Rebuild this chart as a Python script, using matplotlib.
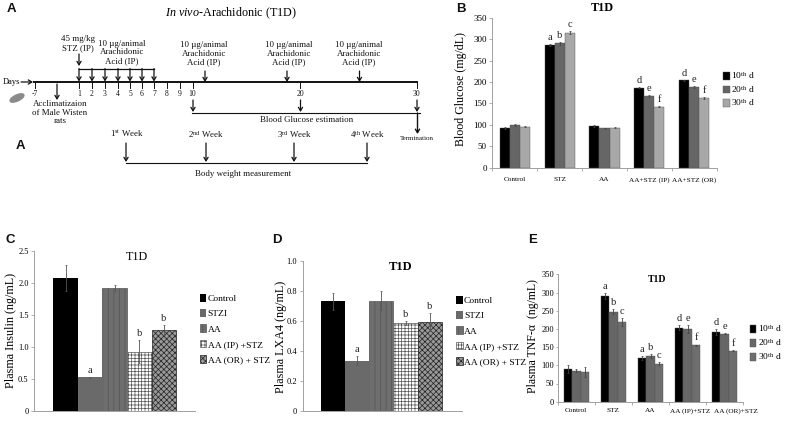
import matplotlib
matplotlib.use("Agg")
import numpy as np
import matplotlib.pyplot as plt
from matplotlib.patches import Ellipse
from matplotlib.transforms import ScaledTranslation

plt.rcParams['font.family'] = ['Liberation Serif', 'DejaVu Serif']
plt.rcParams['mathtext.fontset'] = 'custom'
plt.rcParams['mathtext.rm'] = 'Liberation Serif'
plt.rcParams['mathtext.it'] = 'Liberation Serif:italic'
plt.rcParams['hatch.linewidth'] = 0.5

W, H = 790, 422
DAY_LEGEND = [r"10$^{\mathrm{th}}$ d", r"20$^{\mathrm{th}}$ d", r"30$^{\mathrm{th}}$ d"]
TREAT_LEGEND = ["Control", "STZI", "AA", "AA (IP) +STZ", "AA (OR) + STZ"]

# panel B
b_groups = ["Control", "STZ", "AA", "AA+STZ (IP)", "AA+STZ (OR)"]
b_10 = [92, 287, 97, 187, 204]
b_20 = [100, 290, 92, 167, 188]
b_30 = [96, 315, 93, 142, 163]
b_err_10 = [2, 2, 2, 1.5, 1.5]
b_err_20 = [2, 4, 1.5, 3, 2]
b_err_30 = [1.5, 3, 1.5, 1, 2]
b_let_10 = ["", "a", "", "d", "d"]
b_let_20 = ["", "b", "", "e", "e"]
b_let_30 = ["", "c", "", "f", "f"]

# panel C
c_vals = [2.08, 0.53, 1.92, 0.93, 1.27]
c_err = [0.2, 0.01, 0.05, 0.18, 0.08]
c_let = ["", "a", "", "b", "b"]

# panel D
d_vals = [0.73, 0.335, 0.735, 0.585, 0.59]
d_err = [0.055, 0.03, 0.065, 0.015, 0.06]
d_let = ["", "a", "", "b", "b"]

# panel E
e_groups = ["Control", "STZ", "AA", "AA (IP)+STZ", "AA (OR)+STZ"]
e_10 = [90, 290, 120, 203, 192]
e_20 = [85, 247, 126, 200, 187]
e_30 = [82, 219, 104, 155, 140]
e_err_10 = [10, 9, 6, 7, 8]
e_err_20 = [4, 7, 5, 10, 2]
e_err_30 = [13, 10, 4, 2, 2]
e_let_10 = ["", "a", "a", "d", "d"]
e_let_20 = ["", "b", "b", "e", "e"]
e_let_30 = ["", "c", "c", "f", "f"]

# panel A timeline
day_labels = ["-7", "1", "2", "3", "4", "5", "6", "7", "8", "9", "10", "20", "30"]
day_x = [34.5, 79, 92, 105, 118, 130, 142, 154, 167, 180, 192.5, 300, 416.7]
dose_x = [79, 92, 105, 118, 130, 142, 154]
later_dose_x = [205, 287, 359.5]
later_text_x = [204, 289, 359]
glucose_x = [193, 300.5, 417]
week_labels = [r"1$^{\mathrm{st}}$ Week", r"2$^{\mathrm{nd}}$ Week",
               r"3$^{\mathrm{rd}}$ Week", r"4$^{\mathrm{th}}$ Week"]
week_x = [126, 206, 294, 367]
week_text_x = [127, 206, 294, 367]


def px_axes(left, right, top, bottom):
    ax = fig.add_axes([left / W, 1 - bottom / H, (right - left) / W, (bottom - top) / H])
    for s in ['top', 'right']:
        ax.spines[s].set_visible(False)
    for s in ['left', 'bottom']:
        ax.spines[s].set_color('#a0a0a0')
        ax.spines[s].set_linewidth(0.7)
    ax.tick_params(color='#a0a0a0', width=0.6, length=2.5, pad=1.5)
    return ax


def letters(ax, xs, vals, errs, labs, size=7.5):
    for x, v, e, l in zip(xs, vals, errs, labs):
        if l:
            ax.annotate(l, (x, v + e), xytext=(0, 1.5), textcoords='offset points',
                        ha='center', va='bottom', fontsize=size, color='#222222')


def grouped(ax, names, series, errs, labs, width, ymax, step, size, pad):
    x = np.arange(len(names))
    cols = ['black', '#666666', '#a8a8a8'] if ax is axB else ['black', '#666666', '#6e6e6e']
    for i in range(3):
        xs = x + (i - 1) * width
        ax.bar(xs, series[i], width, color=cols[i], edgecolor='#555555', linewidth=0.3,
               label=DAY_LEGEND[i], yerr=errs[i],
               error_kw=dict(ecolor='#444444', elinewidth=0.6, capsize=1, capthick=0.5))
        letters(ax, xs, series[i], errs[i], labs[i], 7.5)
    ax.set_xlim(-0.5, len(names) - 0.5)
    ax.set_ylim(0, ymax)
    ax.set_yticks(np.arange(0, ymax + 1, step))
    ax.set_xticks(x)
    ax.set_xticklabels(names, fontsize=size)
    ax.set_xticks(np.arange(-0.5, len(names)), minor=True)
    ax.tick_params(axis='x', which='major', length=0, pad=pad)
    ax.tick_params(axis='x', which='minor', color='#a0a0a0', width=0.6, length=2.5)


def single(ax, vals, errs, labs, ymax, ticks, ticklabs):
    xs = np.arange(len(vals))
    styles = [dict(color='black'),
              dict(color='#6a6a6a'),
              dict(facecolor='#6e6e6e', edgecolor='#555555', hatch='|||'),
              dict(facecolor='white', edgecolor='#555555', hatch='+++++'),
              dict(facecolor='#999999', edgecolor='#222222', hatch='xxxxxx')]
    for i in xs:
        ax.bar(xs[i], vals[i], 1.0, label=TREAT_LEGEND[i], linewidth=0.5, yerr=errs[i],
               error_kw=dict(ecolor='#555555', elinewidth=0.6, capsize=1, capthick=0.5),
               **styles[i])
    letters(ax, xs, vals, errs, labs, 7.5)
    ax.set_ylim(0, ymax)
    ax.set_yticks(ticks)
    ax.set_yticklabels(ticklabs, fontsize=6)
    ax.set_xticks([])


def add_legend(ax, xfrac, yfrac, gap):
    ax.legend(loc='upper left', bbox_to_anchor=(xfrac, yfrac), frameon=False, fontsize=6.8,
              handlelength=0.7, handleheight=0.9, handletextpad=0.15, labelspacing=gap,
              borderaxespad=0, borderpad=0)


def tree_arrow(x, y0, y1, lw=0.9, x0=None):
    ov.annotate("", xy=(x, y1), xytext=(x if x0 is None else x0, y0),
                arrowprops=dict(arrowstyle='->,head_length=0.25,head_width=0.15', lw=lw,
                                color='#111111', shrinkA=0, shrinkB=0))


def stack(x, ys, lines, size=6.4):
    for y, s in zip(ys, lines):
        ov.text(x, y, s, ha='center', va='center', fontsize=size, color='#111111')


fig = plt.figure(figsize=(W / 100, H / 100), dpi=100)

# panel B
axB = px_axes(492.3, 716.7, 17.7, 167.7)
grouped(axB, b_groups, [b_10, b_20, b_30], [b_err_10, b_err_20, b_err_30],
        [b_let_10, b_let_20, b_let_30], 0.223, 350, 50, 5.2, 7)
axB.tick_params(axis='y', labelsize=6.5)
axB.set_ylabel("Blood Glucose (mg/dL)", fontsize=8.6)
axB.yaxis.set_label_coords(-0.113, 0.525)
add_legend(axB, 1.03, 0.651, 0.28)

# panel C
axC = px_axes(34.3, 195, 251, 411.3)
single(axC, c_vals, c_err, c_let, 2.5, [0, 0.5, 1, 1.5, 2, 2.5],
       ["0", "0.5", "1.0", "1.5", "2.0", "2.5"])
axC.set_xlim(-1.27, 5.26)
axC.set_ylabel("Plasma Insulin (ng/mL)", fontsize=8.7)
axC.yaxis.set_label_coords(-0.108, 0.504)
add_legend(axC, 1.03, 0.732, 0.64)

# panel D
axD = px_axes(302.7, 461.7, 260.7, 411.3)
single(axD, d_vals, d_err, d_let, 1.0, [0, 0.2, 0.4, 0.6, 0.8, 1.0],
       ["0", "0.2", "0.4", "0.6", "0.8", "1.0"])
axD.set_xlim(-1.24, 5.31)
axD.set_ylabel("Plasma LXA4 (ng/mL)", fontsize=8.7)
axD.yaxis.set_label_coords(-0.099, 0.493)
add_legend(axD, 0.964, 0.766, 0.64)

# panel E
axE = px_axes(557.7, 743.3, 274.3, 401.7)
grouped(axE, e_groups, [e_10, e_20, e_30], [e_err_10, e_err_20, e_err_30],
        [e_let_10, e_let_20, e_let_30], 0.229, 350, 50, 5.2, 4.5)
# the last two group names sit right of their bars in the original
for lab, dx in zip(axE.get_xticklabels(), [0, 0, 0, 3, 11]):
    lab.set_transform(lab.get_transform() + ScaledTranslation(dx / 100, 0, fig.dpi_scale_trans))
axE.tick_params(axis='y', labelsize=6, length=1.5, pad=1)
axE.set_ylabel("Plasma TNF-α  (ng/mL)", fontsize=8.5)
axE.yaxis.set_label_coords(-0.1, 0.516)
add_legend(axE, 1.035, 0.618, 0.33)

# overlay in pixels for the schematic, titles and panel letters
ov = fig.add_axes([0, 0, 1, 1], facecolor='none')
ov.set_xlim(0, W)
ov.set_ylim(H, 0)
ov.axis('off')

for s, x, y in [("A", 11, 9), ("A", 20, 146), ("B", 461, 9), ("C", 10, 240),
                ("D", 277, 240), ("E", 533, 240)]:
    ov.text(x, y, s, fontsize=9.5, fontweight='bold', family='Liberation Sans',
            ha='center', va='center', color='#111111')

ov.text(231, 13, r"$\mathit{In\ vivo}$-Arachidonic (T1D)", fontsize=8.7, ha='center', va='center')
ov.text(602, 8, "T1D", fontsize=8.7, fontweight='bold', ha='center', va='center')
ov.text(137, 257, "T1D", fontsize=8.7, ha='center', va='center')
ov.text(401, 267, "T1D", fontsize=9, fontweight='bold', ha='center', va='center')
ov.text(657, 280, "T1D", fontsize=7, fontweight='bold', ha='center', va='center')

# timeline
ov.plot([34, 417], [82, 82], color='#111111', lw=1.4)
for x, s in zip(day_x, day_labels):
    ov.plot([x, x], [82, 88], color='#111111', lw=0.7)
    ov.text(x, 94.5, s, fontsize=5.5, ha='center', va='center', color='#111111')
ov.text(11, 81.5, "Days", fontsize=6, ha='center', va='center')
tree_arrow(33, 82, 82, x0=21)

ov.plot([79, 154], [68.5, 68.5], color='#111111', lw=0.9)
for x in dose_x:
    tree_arrow(x, 68.5, 81.5)
tree_arrow(79, 54, 66)
stack(78, [39, 48], ["45 mg/kg", "STZ (IP)"])
stack(122, [44, 52, 61], ["10 µg/animal", "Arachidonic", "Acid (IP)"])
for xa, xt in zip(later_dose_x, later_text_x):
    tree_arrow(xa, 71, 82)
    stack(xt, [45, 54, 62], ["10 µg/animal", "Arachidonic", "Acid (IP)"])

tree_arrow(57, 84, 100)
stack(60, [104, 113, 121], ["Acclimatizaion", "of Male Wisten", "rats"])
ov.add_patch(Ellipse((17, 98), 15, 6, angle=-25, color='#8a8a8a'))

ov.plot([192, 420], [112.5, 112.5], color='#111111', lw=0.8)
for x in glucose_x:
    tree_arrow(x, 100, 112)
stack(307, [120], ["Blood Glucose estimation"])
tree_arrow(417.5, 113, 134, 1.0)
stack(417, [138], ["Termination"], 5)

ov.plot([126, 367], [162.5, 162.5], color='#111111', lw=0.8)
for x, xt, s in zip(week_x, week_text_x, week_labels):
    tree_arrow(x, 143, 162)
    stack(xt, [134], [s])
stack(243, [174], ["Body weight measurement"])

fig.savefig("out.png", dpi=100)
